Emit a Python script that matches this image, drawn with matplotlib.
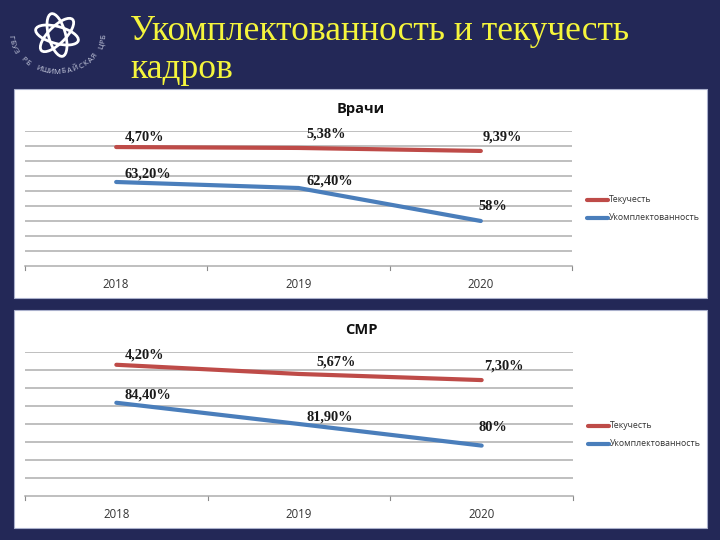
"""
Staffing and turnover slide: two line charts on a navy background
"""
import numpy as np
import matplotlib
matplotlib.use('Agg')
import matplotlib.pyplot as plt
from matplotlib.patches import Ellipse, Rectangle

W, H = 720, 540
BG = '#232857'
RED = '#be4b48'
BLUE = '#4a7ebb'

years = ['2018', '2019', '2020']
series_names = ['Текучесть', 'Укомплектованность']

doctors_red = [79.3, 78.7, 76.7]
doctors_blue = [56.0, 52.0, 30.0]
doctors_red_labels = ['4,70%', '5,38%', '9,39%']
doctors_blue_labels = ['63,20%', '62,40%', '58%']

nurses_red = [72.9, 67.8, 64.4]
nurses_blue = [51.8, 40.0, 28.0]
nurses_red_labels = ['4,20%', '5,67%', '7,30%']
nurses_blue_labels = ['84,40%', '81,90%', '80%']


def px_axes(fig, x0, y0, x1, y1):
    # axes from pixel box, y measured from the top
    return fig.add_axes([x0 / W, 1 - y1 / H, (x1 - x0) / W, (y1 - y0) / H])


def panel(fig, box, plot, ymax, title, title_xy, red, blue, red_lab, blue_lab,
          red_off, blue_off, legend_x, legend_y):
    fig.patches.append(Rectangle((box[0] / W, 1 - box[3] / H), (box[2] - box[0]) / W,
                                 (box[3] - box[1]) / H, transform=fig.transFigure,
                                 facecolor='white', edgecolor='#aab0cc', linewidth=0.8,
                                 zorder=-1))
    ax = px_axes(fig, *plot)
    ax.patch.set_alpha(0)
    x = np.arange(len(years))
    ax.set_xlim(-0.5, 2.5)
    ax.set_ylim(0, ymax)
    ax.set_yticks(np.arange(10, ymax + 1, 10))
    ax.grid(True, axis='y', color='#adadad', linewidth=1.1)
    ax.set_axisbelow(True)
    for s in ['top', 'left', 'right']:
        ax.spines[s].set_visible(False)
    ax.spines['bottom'].set_color('#adadad')
    ax.spines['bottom'].set_linewidth(1.1)
    ax.tick_params(axis='y', length=0, labelleft=False)
    ax.set_xticks(x)
    ax.set_xticklabels(years, fontsize=8.3, color='#333333', family='Open Sans')
    ax.tick_params(axis='x', length=0, pad=9)
    # category boundary ticks like in the office chart
    for b in [-0.5, 0.5, 1.5, 2.5]:
        ax.plot([b, b], [0, -0.03], transform=ax.get_xaxis_transform(),
                color='#8a8a8a', linewidth=0.8, clip_on=False)

    ax.plot(x, red, color=RED, linewidth=3, solid_capstyle='round', label=series_names[0])
    ax.plot(x, blue, color=BLUE, linewidth=3, solid_capstyle='round', label=series_names[1])

    for i in x:
        ax.annotate(red_lab[i], (i, red[i]), xytext=red_off[i], textcoords='offset pixels',
                    fontsize=10.4, fontweight='bold', family='Liberation Serif',
                    color='#1a1a1a', ha='center', va='center')
        ax.annotate(blue_lab[i], (i, blue[i]), xytext=blue_off[i], textcoords='offset pixels',
                    fontsize=10.4, fontweight='bold', family='Liberation Serif',
                    color='#1a1a1a', ha='center', va='center')

    fig.text(title_xy[0] / W, 1 - title_xy[1] / H, title, fontsize=10.5, fontweight='bold',
             family='Open Sans', color='#111111', ha='center', va='center')

    # legend, placed by hand
    for k, (name, col) in enumerate(zip(series_names, [RED, BLUE])):
        yy = 1 - (legend_y + k * 18) / H
        fig.add_artist(plt.Line2D([legend_x / W, (legend_x + 21) / W], [yy, yy], color=col,
                                  linewidth=3, solid_capstyle='round'))
        fig.text((legend_x + 22) / W, yy, name, fontsize=6.3, family='Open Sans',
                 color='#333333', ha='left', va='center')


def logo(fig):
    ax = fig.add_axes([0, 0, 1, 1])
    ax.set_xlim(0, W)
    ax.set_ylim(H, 0)
    ax.axis('off')
    ax.patch.set_alpha(0)
    cx, cy = 57, 35
    for ang in [15, 75, 135]:
        ax.add_patch(Ellipse((cx, cy), 44, 17, angle=ang, fill=False,
                             edgecolor='white', linewidth=2))
    # text running round the bottom of the emblem
    txt = 'ГБУЗ РБ ИШИМБАЙСКАЯ ЦРБ'
    angles = np.linspace(176, 4, len(txt))
    for ch, a in zip(txt, angles):
        t = np.deg2rad(a)
        ax.text(cx + 47 * np.cos(t), 34 + 38 * np.sin(t), ch, fontsize=5.6,
                color='#c9cde0', ha='center', va='center', rotation=90 - a,
                rotation_mode='anchor', family='Open Sans')


fig = plt.figure(figsize=(W / 100, H / 100), dpi=100, facecolor=BG)

fig.text(130 / W, 1 - 32 / H, 'Укомплектованность и текучесть', fontsize=25.5,
         family='Liberation Serif', color='#f5f53c', ha='left', va='center')
fig.text(130 / W, 1 - 69 / H, 'кадров', fontsize=25.5,
         family='Liberation Serif', color='#f5f53c', ha='left', va='center')

panel(fig, (14, 89, 707, 298), (25, 131, 572, 266), 90, 'Врачи', (361, 109),
      doctors_red, doctors_blue, doctors_red_labels, doctors_blue_labels,
      [(28, 10), (28, 14), (21, 14)], [(32, 8), (31, 7), (12, 15)], 587, 200)
panel(fig, (14, 310, 707, 528), (25, 352, 573, 496), 80, 'СМР', (361, 330),
      nurses_red, nurses_blue, nurses_red_labels, nurses_blue_labels,
      [(28, 10), (37, 12), (22, 14)], [(32, 8), (31, 7), (11, 18)], 588, 426)

logo(fig)

fig.savefig('out.png', dpi=100, facecolor=BG)
